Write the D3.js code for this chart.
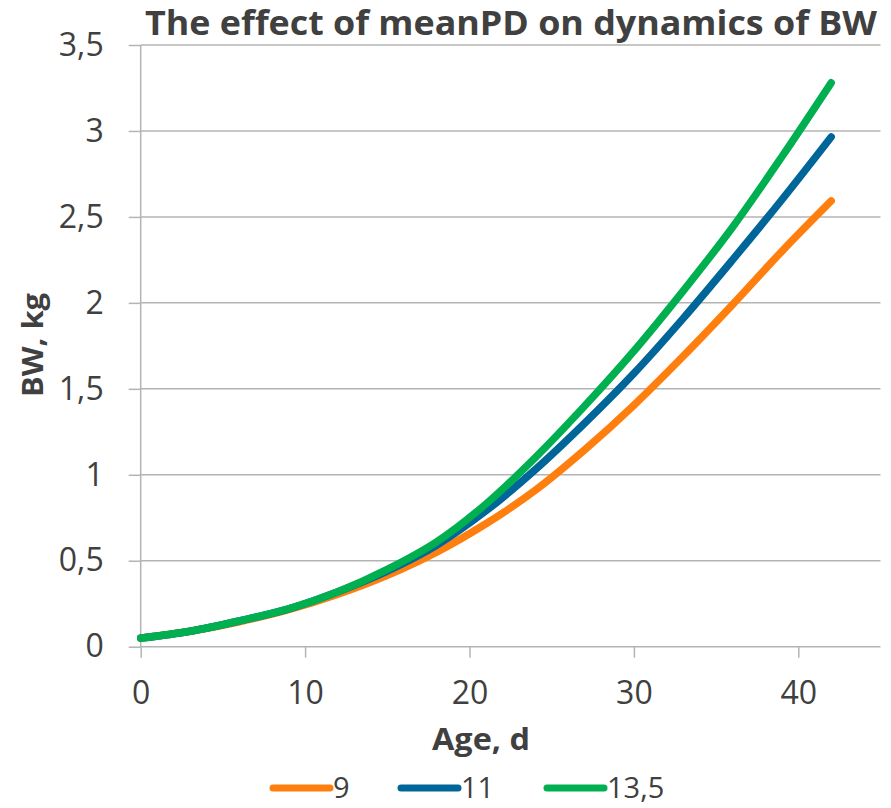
<!DOCTYPE html>
<html>
<head>
<meta charset="utf-8">
<script src="https://cdn.jsdelivr.net/npm/d3@7"></script>
<style>
  html, body { margin: 0; padding: 0; background: #fff; }
  svg { display: block; font-family: "Open Sans", sans-serif; }
</style>
</head>
<body>
<div id="chart"></div>
<script>
const width = 891;
const height = 808;
const textColor = "#404040";
const gridColor = "#b4b4b4";

// data
const days = [0, 3, 6, 9, 12, 15, 18, 21, 24, 27, 30, 33, 36, 39, 42];
const bw9 = [0.05, 0.09, 0.145, 0.215, 0.305, 0.415, 0.55, 0.715, 0.91, 1.145, 1.405, 1.69, 1.99, 2.30, 2.593];
const bw11 = [0.05, 0.09, 0.15, 0.22, 0.32, 0.44, 0.59, 0.79, 1.03, 1.30, 1.59, 1.91, 2.25, 2.60, 2.965];
const bw135 = [0.05, 0.09, 0.15, 0.22, 0.32, 0.45, 0.61, 0.83, 1.10, 1.40, 1.72, 2.07, 2.44, 2.85, 3.28];
const seriesNames = ["9", "11", "13,5"];
const seriesColors = ["#ff7f0e", "#006699", "#00b050"];
const xTicks = [0, 10, 20, 30, 40];
const yTicks = [0, 0.5, 1, 1.5, 2, 2.5, 3, 3.5];

const series = [bw9, bw11, bw135].map((vals, i) => ({
    name: seriesNames[i],
    color: seriesColors[i],
    points: days.map((d, j) => [d, vals[j]])
}));

const x = d3.scaleLinear().domain([0, 45]).range([140.7, 880.5]);
const y = d3.scaleLinear().domain([0, 3.5]).range([646.7, 45]);
const fmt = d => String(d).replace(".", ",");

const svg = d3.select("#chart")
    .append("svg")
    .attr("width", width)
    .attr("height", height);

// grid lines
svg.append("g")
    .selectAll("line")
    .data(yTicks.filter(d => d > 0))
    .join("line")
    .attr("x1", x(0))
    .attr("x2", x(45))
    .attr("y1", d => y(d))
    .attr("y2", d => y(d))
    .attr("stroke", gridColor)
    .attr("stroke-width", 1.5);

// axes
const yAxis = svg.append("g")
    .attr("transform", `translate(${x(0)},0)`)
    .call(d3.axisLeft(y).tickValues(yTicks).tickFormat(fmt).tickSize(12).tickPadding(25));

const xAxis = svg.append("g")
    .attr("transform", `translate(0,${y(0)})`)
    .call(d3.axisBottom(x).tickValues(xTicks).tickSize(11).tickPadding(24));

[yAxis, xAxis].forEach(g => {
    g.select(".domain").attr("stroke", gridColor).attr("stroke-width", 1.5);
    g.selectAll(".tick line").attr("stroke", gridColor).attr("stroke-width", 1.5);
    g.selectAll(".tick text")
        .attr("fill", textColor)
        .attr("font-size", 32)
        .attr("font-family", "'Open Sans', sans-serif");
});
xAxis.select(".domain").attr("d", `M${x(0)},0H${x(45)}`);
yAxis.select(".domain").attr("d", `M0,${y(3.5)}V${y(0)}`);

// lines
const line = d3.line()
    .curve(d3.curveCatmullRom.alpha(0.5))
    .x(d => x(d[0]))
    .y(d => y(d[1]));

svg.append("g")
    .attr("fill", "none")
    .attr("stroke-width", 7.5)
    .attr("stroke-linecap", "round")
    .attr("stroke-linejoin", "round")
    .selectAll("path")
    .data(series)
    .join("path")
    .attr("stroke", d => d.color)
    .attr("d", d => line(d.points));

// title
svg.append("text")
    .attr("x", 145)
    .attr("y", 35)
    .attr("font-size", 34)
    .attr("font-weight", "bold")
    .attr("fill", textColor)
    .attr("textLength", 732)
    .attr("lengthAdjust", "spacingAndGlyphs")
    .text("The effect of meanPD on dynamics of BW");

// axis titles
svg.append("text")
    .attr("transform", "translate(43,345) rotate(-90)")
    .attr("text-anchor", "middle")
    .attr("font-size", 28)
    .attr("font-weight", "bold")
    .attr("fill", textColor)
    .attr("textLength", 104)
    .attr("lengthAdjust", "spacingAndGlyphs")
    .text("BW, kg");

svg.append("text")
    .attr("x", 481)
    .attr("y", 750)
    .attr("text-anchor", "middle")
    .attr("font-size", 30)
    .attr("font-weight", "bold")
    .attr("fill", textColor)
    .attr("textLength", 98)
    .attr("lengthAdjust", "spacingAndGlyphs")
    .text("Age, d");

// legend
const legendX = [273, 401, 547];
const legend = svg.append("g")
    .selectAll("g")
    .data(series)
    .join("g")
    .attr("transform", (d, i) => `translate(${legendX[i]},788)`);

legend.append("line")
    .attr("x1", 0)
    .attr("x2", 57)
    .attr("stroke", d => d.color)
    .attr("stroke-width", 7)
    .attr("stroke-linecap", "round");

legend.append("text")
    .attr("x", 60)
    .attr("y", 10)
    .attr("font-size", 29)
    .attr("fill", textColor)
    .text(d => d.name);
</script>
</body>
</html>
